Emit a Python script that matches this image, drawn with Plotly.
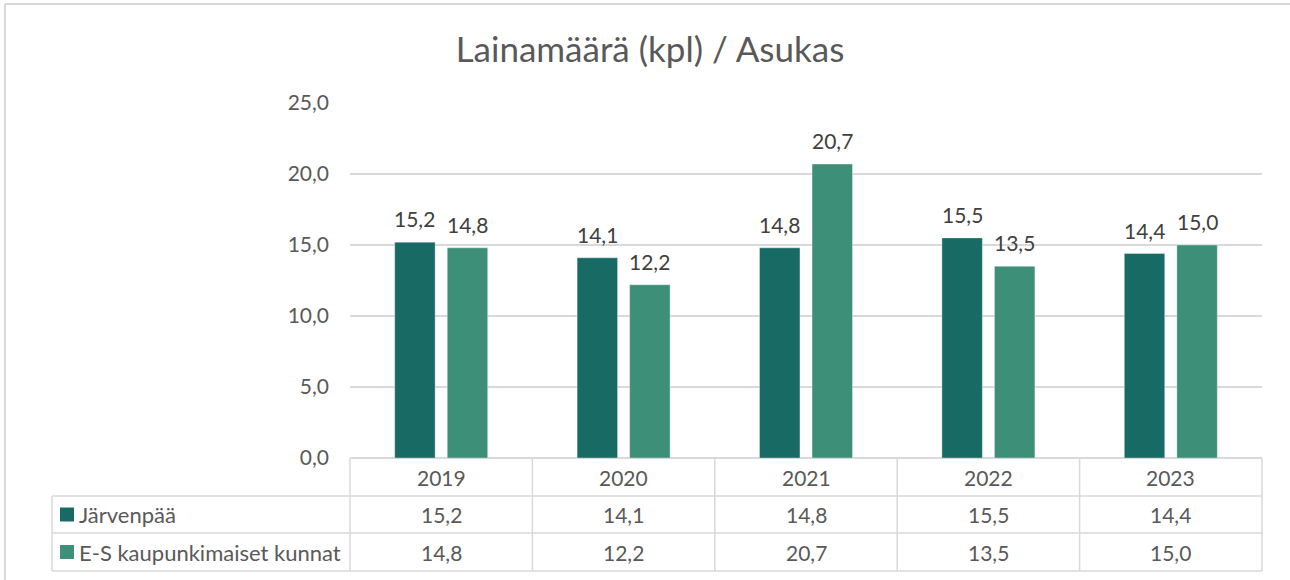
import plotly.graph_objects as go

years = ["2019", "2020", "2021", "2022", "2023"]
series_names = ["Järvenpää", "E-S kaupunkimaiset kunnat"]
jarvenpaa = [15.2, 14.1, 14.8, 15.5, 14.4]
es_kunnat = [14.8, 12.2, 20.7, 13.5, 15.0]
y_ticks = [0, 5, 10, 15, 20, 25]

colors = ["#186B65", "#3D8F78"]
W, H = 1290, 580
PL, PR, PT, PB = 350, 1262, 103, 458  # plot area in pixels
FONT = "Lato"
GRID = "#D9D9D9"
TXT = "#595959"
BARGAP, GROUPGAP = 0.424, 0.23


def fmt(v):
    return f"{v:.1f}".replace(".", ",")


def px_x(p):
    return (p - PL) / (PR - PL)


def px_y(p):
    return (PB - p) / (PB - PT)


series = [jarvenpaa, es_kunnat]
fig = go.Figure()
for name, vals, c in zip(series_names, series, colors):
    fig.add_trace(go.Bar(
        x=years, y=vals, name=name,
        marker=dict(color=c, line=dict(color="rgba(255,255,255,0.35)", width=1)),
        cliponaxis=False, hoverinfo="skip",
    ))

shapes = []
line = dict(color=GRID, width=1.5)
# outer chart border (left & top)
shapes.append(dict(type="line", xref="paper", yref="paper", x0=px_x(5), x1=px_x(5),
                   y0=px_y(4), y1=px_y(582), line=dict(color=GRID, width=2)))
shapes.append(dict(type="line", xref="paper", yref="paper", x0=px_x(5), x1=px_x(1292),
                   y0=px_y(4), y1=px_y(4), line=dict(color=GRID, width=2)))

# data table grid
row_y = [458, 496, 533, 571]
n = len(years)
for k in range(n + 1):
    xp = k / n
    shapes.append(dict(type="line", xref="paper", yref="paper", x0=xp, x1=xp,
                       y0=px_y(row_y[0]), y1=px_y(row_y[-1]), line=line))
shapes.append(dict(type="line", xref="paper", yref="paper", x0=px_x(52), x1=px_x(52),
                   y0=px_y(row_y[1]), y1=px_y(row_y[-1]), line=line))
for r in row_y[1:]:
    shapes.append(dict(type="line", xref="paper", yref="paper", x0=px_x(52), x1=1,
                       y0=px_y(r), y1=px_y(r), line=line))

annotations = []
# data labels above bars (bar centres derived from group layout)
group_w = 1 - BARGAP
ns = len(series)
for s, vals in enumerate(series):
    off = -group_w / 2 + group_w / ns * (s + 0.5)
    for i, v in enumerate(vals):
        annotations.append(dict(x=i + off, xref="x", y=v, yref="y", text=fmt(v),
                                showarrow=False, xanchor="center", yanchor="bottom",
                                yshift=9, font=dict(family=FONT, size=21, color="#404040")))
# header years
for i, yr in enumerate(years):
    annotations.append(dict(x=i, xref="x", y=px_y((row_y[0] + row_y[1]) / 2), yref="paper",
                            text=yr, showarrow=False, xanchor="center", yanchor="middle",
                            font=dict(family=FONT, size=21, color=TXT)))
# rows
for r, (name, vals, c) in enumerate(zip(series_names, series, colors)):
    cy = (row_y[r + 1] + row_y[r + 2]) / 2
    shapes.append(dict(type="rect", xref="paper", yref="paper", x0=px_x(60), x1=px_x(74),
                       y0=px_y(cy - 7), y1=px_y(cy + 7), fillcolor=c, line=dict(width=0)))
    annotations.append(dict(x=px_x(77), xref="paper", y=px_y(cy), yref="paper",
                            text=name, showarrow=False, xanchor="left", yanchor="middle",
                            font=dict(family=FONT, size=22, color=TXT)))
    for i, v in enumerate(vals):
        annotations.append(dict(x=i, xref="x", y=px_y(cy), yref="paper",
                                text=fmt(v), showarrow=False, xanchor="center", yanchor="middle",
                                font=dict(family=FONT, size=21, color=TXT)))

fig.update_layout(
    width=W, height=H,
    margin=dict(l=PL, r=W - PR, t=PT, b=H - PB, pad=0),
    paper_bgcolor="white", plot_bgcolor="white",
    separators=", ",
    title=dict(text="Lainamäärä (kpl) / Asukas", x=650 / W, xanchor="center",
               y=1 - 50 / H, yanchor="middle", yref="container",
               font=dict(family=FONT, size=35, color=TXT)),
    barmode="group", bargap=BARGAP, bargroupgap=GROUPGAP,
    showlegend=False,
    shapes=shapes, annotations=annotations,
    xaxis=dict(type="category", showticklabels=False, showgrid=False, zeroline=False,
               showline=False, range=[-0.5, n - 0.5]),
    yaxis=dict(range=[0, 25], tickvals=y_ticks, tickformat=".1f",
               tickfont=dict(family=FONT, size=21, color=TXT),
               showgrid=True, gridcolor=GRID, gridwidth=1.5, zeroline=True,
               zerolinecolor=GRID, zerolinewidth=1.5, showline=False,
               ticks="", ticklabelstandoff=20),
)

fig.write_html("out.html", config={"displayModeBar": False},
               post_script="document.body.style.margin='0';")
